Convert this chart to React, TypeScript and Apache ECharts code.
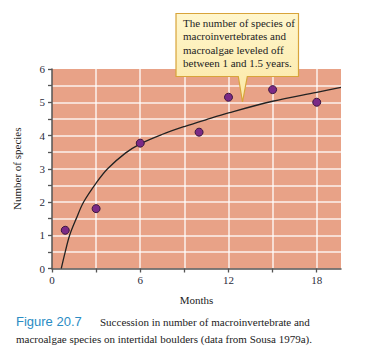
import React, { useEffect, useRef } from "react";
import * as echarts from "echarts";

const observedMonths = [0.9, 3, 6, 10, 12, 15, 18];
const observedSpecies = [1.15, 1.8, 3.77, 4.1, 5.15, 5.38, 5.0];

const curveMonths = [0.63, 0.9, 1.2, 1.65, 2.15, 3, 3.78, 4.99, 6, 7.47, 9, 10.5, 12, 15, 18, 19.65];
const curveSpecies = [0, 0.5, 1.0, 1.5, 2.0, 2.57, 3.0, 3.47, 3.75, 4.03, 4.27, 4.48, 4.68, 5.03, 5.3, 5.45];

const xLabels = [0, 6, 12, 18];
const yLabels = [0, 1, 2, 3, 4, 5, 6];

const calloutLines = [
  "The number of species of",
  "macroinvertebrates and",
  "macroalgae leveled off",
  "between 1 and 1.5 years.",
];
const captionTitle = "Figure 20.7";
const captionLine1 = "Succession in number of macroinvertebrate and";
const captionLine2 = "macroalgae species on intertidal boulders (data from Sousa 1979a).";

const SERIF = "'Liberation Serif', 'DejaVu Serif', serif";

export default function App() {
  const ref = useRef<HTMLDivElement>(null);
  useEffect(() => {
    if (!ref.current) return;
    const chart = echarts.init(ref.current, null, { renderer: "svg" });
    chart.setOption({
      animation: false,
      backgroundColor: "#ffffff",
      grid: {
        left: 52,
        right: 24,
        top: 69,
        bottom: 93.5,
        show: true,
        backgroundColor: "#e8a287",
        borderWidth: 0,
      },
      xAxis: {
        type: "value",
        min: 0,
        max: 19.65,
        interval: 3,
        name: "Months",
        nameLocation: "middle",
        nameGap: 26,
        nameTextStyle: { fontFamily: SERIF, fontSize: 11, color: "#222" },
        axisLine: { show: true, onZero: false, lineStyle: { color: "#555", width: 1.5 } },
        axisTick: { show: true, inside: false, length: 4, lineStyle: { color: "#555", width: 1.3 } },
        axisLabel: {
          fontFamily: SERIF,
          fontSize: 11,
          color: "#2b2b3b",
          margin: 6,
          showMaxLabel: false,
          formatter: (v: number) => (xLabels.includes(v) ? String(v) : ""),
        },
        splitLine: { show: true, showMinLine: false, showMaxLine: false, lineStyle: { color: "#ffffff", width: 1.5, opacity: 0.85 } },
      },
      yAxis: {
        type: "value",
        min: 0,
        max: 6,
        interval: 0.5,
        name: "Number of species",
        nameLocation: "middle",
        nameGap: 30,
        nameRotate: 90,
        nameTextStyle: { fontFamily: SERIF, fontSize: 11, color: "#222" },
        axisLine: { show: true, lineStyle: { color: "#555", width: 1.5 } },
        axisTick: { show: true, inside: false, length: 4, lineStyle: { color: "#555", width: 1.3 } },
        axisLabel: {
          fontFamily: SERIF,
          fontSize: 11,
          color: "#2b2b3b",
          margin: 7,
          formatter: (v: number) => (yLabels.includes(v) ? String(v) : ""),
        },
        splitLine: { show: true, showMinLine: false, showMaxLine: false, lineStyle: { color: "#ffffff", width: 1.5, opacity: 0.85 } },
      },
      series: [
        {
          type: "line",
          data: curveMonths.map((m, i) => [m, curveSpecies[i]]),
          smooth: 0.35,
          showSymbol: false,
          lineStyle: { color: "#222222", width: 1.3 },
          z: 3,
        },
        {
          type: "scatter",
          data: observedMonths.map((m, i) => [m, observedSpecies[i]]),
          symbolSize: 8,
          itemStyle: { color: "#7b2a86", borderColor: "#3a163f", borderWidth: 1, opacity: 1 },
          z: 4,
        },
      ],
      graphic: [
        {
          type: "polygon",
          shape: {
            points: [
              [176, 13.5],
              [298.5, 13.5],
              [298.5, 76.5],
              [247.3, 76.5],
              [242.5, 102],
              [238.3, 76.5],
              [176, 76.5],
            ],
          },
          style: {
            fill: new echarts.graphic.LinearGradient(0, 0, 0, 1, [
              { offset: 0, color: "#fff6cc" },
              { offset: 1, color: "#fbe8a6" },
            ]),
            stroke: "#d8a43a",
            lineWidth: 1.2,
          },
          z: 10,
        },
        {
          type: "text",
          x: 183,
          y: 16.5,
          style: {
            text: calloutLines.join("\n"),
            fontFamily: SERIF,
            fontSize: 11,
            lineHeight: 13.3,
            fill: "#222",
          },
          z: 11,
        },
        {
          type: "text",
          x: 16,
          y: 315,
          style: {
            text: captionTitle,
            fontFamily: "'Liberation Sans', Arial, sans-serif",
            fontSize: 13,
            fill: "#2a8cc4",
          },
        },
        {
          type: "text",
          x: 100,
          y: 316.5,
          style: {
            text: captionLine1,
            fontFamily: SERIF,
            fontSize: 11,
            fill: "#222",
          },
        },
        {
          type: "text",
          x: 16,
          y: 333,
          style: {
            text: captionLine2,
            fontFamily: SERIF,
            fontSize: 11,
            fill: "#222",
          },
        },
      ],
    });
    return () => chart.dispose();
  }, []);
  return <div ref={ref} style={{ width: 365, height: 362, position: "absolute", left: 0, top: 0 }} />;
}
